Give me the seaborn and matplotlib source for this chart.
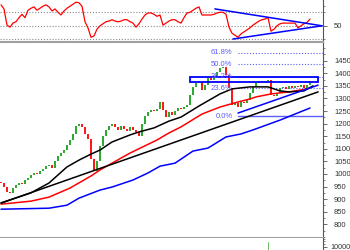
import numpy as np
import pandas as pd
import matplotlib
matplotlib.use("Agg")
import matplotlib.pyplot as plt
import seaborn as sns
from matplotlib.patches import Rectangle
from matplotlib.ticker import FixedLocator, MultipleLocator

# ---------------- data ----------------
first_open = 970
closes = [965, 950, 930, 925, 945, 955, 965, 960, 975, 985,
          995, 1005, 1000, 1012, 1020, 1030, 1035, 1025, 1050, 1070,
          1085, 1095, 1115, 1135, 1160, 1190, 1200, 1185, 1160, 1140,
          1060, 1010, 1050, 1110, 1150, 1175, 1190, 1200, 1185, 1175,
          1190, 1180, 1170, 1185, 1175, 1165, 1150, 1200, 1230, 1245,
          1255, 1250, 1260, 1285, 1255, 1225, 1245, 1235, 1250, 1262,
          1258, 1268, 1275, 1315, 1345, 1360, 1365, 1335, 1355, 1380,
          1375, 1385, 1405, 1420, 1425, 1395, 1340, 1275, 1280, 1265,
          1285, 1280, 1295, 1320, 1345, 1360, 1368, 1365, 1370, 1375,
          1315, 1310, 1322, 1340, 1345, 1338, 1350, 1342, 1348, 1345,
          1352, 1340, 1355, 1368]

rsi = [81, 75, 51, 48, 54, 56, 62, 67, 62, 73,
       76, 78, 73, 76, 79, 81, 78, 72, 75, 70,
       66, 72, 76, 79, 82, 85, 84, 79, 56, 47,
       33, 35, 45, 50, 53, 56, 57, 59, 57, 56,
       57, 59, 59, 56, 54, 48, 53, 60, 66, 69,
       69, 67, 64, 66, 51, 54, 57, 59, 59, 56,
       54, 62, 69, 70, 73, 76, 78, 66, 66, 66,
       66, 67, 69, 70, 70, 67, 48, 39, 36, 33,
       38, 41, 44, 47, 51, 54, 57, 59, 60, 62,
       42, 45, 50, 53, 54, 54, 54, 54, 54, 47,
       50, 53, 55, 60]

ma50_days = [0, 10, 16, 22, 26, 30, 33, 37, 43, 46, 51, 56, 60, 66, 73, 77, 83, 89, 93, 96, 101, 104]
ma50_vals = [885, 925, 964, 1028, 1055, 1079, 1095, 1127, 1155, 1167, 1183, 1210, 1226, 1270, 1318,
             1338, 1346, 1346, 1330, 1326, 1330, 1350]

ma100_days = [0, 10, 16, 23, 30, 33, 43, 52, 56, 60, 67, 73, 79, 83, 85, 90, 96, 102]
ma100_vals = [880, 892, 908, 944, 992, 1016, 1083, 1135, 1163, 1187, 1238, 1266, 1286, 1298, 1306,
              1318, 1326, 1338]

ma200_days = [0, 16, 22, 26, 33, 37, 44, 49, 53, 58, 64, 69, 75, 80, 84, 93, 103]
ma200_vals = [860, 864, 876, 904, 936, 948, 976, 1004, 1031, 1043, 1091, 1103, 1147, 1159, 1175,
              1214, 1262]

trend_days = [0, 105.7]
trend_vals = [884, 1326]

support_days = [79, 105.7]
support_vals = [1242, 1353]

zone_days = [63, 105.7]
zone_vals = [1364, 1386]

fib_labels = ["0.0%", "23.6%", "38.2%", "50.0%", "61.8%"]
fib_vals = [1230, 1340, 1386, 1436, 1482]
fib_start = 79

rsi_upper_days = [71.3, 107]
rsi_upper_vals = [75, 50]
rsi_lower_days = [77.3, 107]
rsi_lower_vals = [30.4, 50]
rsi_levels = [70, 50, 30]

vol_days = [89]
vol_vals = [10500]

price_ticks = list(range(800, 1451, 50))

# ---------------- style ----------------
sns.set_theme(style="white")
plt.rcParams['font.family'] = ['Liberation Sans', 'DejaVu Sans']

W, H = 350, 250
fig = plt.figure(figsize=(3.5, 2.5), dpi=100)
fig.patch.set_facecolor("white")


def rect(x0, y0, x1, y1):
    return [x0 / W, 1 - y1 / H, (x1 - x0) / W, (y1 - y0) / H]


ax_rsi = fig.add_axes(rect(0, 0, 323, 42))
ax = fig.add_axes(rect(0, 42, 323, 238))
ax_vol = fig.add_axes(rect(0, 238, 323, 250))

XMIN, XMAX = -1 / 3, 322 / 3
GREEN = "#19a019"
RED = "#ff0000"
BLUE = "#0000ff"
FIBC = "#5c5cff"
SEP = "#a0a0a0"
TXT = "#333333"

for a in (ax_rsi, ax, ax_vol):
    a.set_facecolor("white")
    a.set_xlim(XMIN, XMAX)
    a.set_xticks([])
    for s in ("left", "top", "bottom"):
        a.spines[s].set_visible(False)
    a.spines["right"].set_visible(True)
    a.spines["right"].set_color("#555555")
    a.spines["right"].set_linewidth(0.8)
    a.yaxis.tick_right()
    a.tick_params(axis="y", which="major", direction="out", length=3, width=0.6,
                  colors="#555555", labelcolor=TXT, labelsize=5.5, pad=5, right=True, left=False)
    a.tick_params(axis="y", which="minor", direction="out", length=1.6, width=0.5,
                  colors="#555555", right=True, left=False)

# separators
for s in ("top", "bottom"):
    ax.spines[s].set_visible(True)
    ax.spines[s].set_color(SEP)
    ax.spines[s].set_linewidth(1.5)

# ---------------- RSI panel ----------------
ax_rsi.set_ylim(26, 88.2)
for lv in rsi_levels:
    ax_rsi.axhline(lv, color="#8a8a8a", lw=0.8, ls=(0, (1, 1.6)), zorder=1)
rsi_df = pd.DataFrame({"day": np.arange(len(rsi)), "rsi": rsi})
sns.lineplot(data=rsi_df, x="day", y="rsi", ax=ax_rsi, color=RED, lw=0.9, zorder=3)
sns.lineplot(x=rsi_upper_days, y=rsi_upper_vals, ax=ax_rsi, color=BLUE, lw=1.1, zorder=4)
sns.lineplot(x=rsi_lower_days, y=rsi_lower_vals, ax=ax_rsi, color=BLUE, lw=1.1, zorder=4)
ax_rsi.yaxis.set_major_locator(FixedLocator([50]))
ax_rsi.yaxis.set_minor_locator(FixedLocator([30, 70, 80]))
ax_rsi.set_xlim(XMIN, XMAX)
ax_rsi.set_xlabel("")
ax_rsi.set_ylabel("")

# ---------------- main price panel ----------------
ax.set_ylim(745.6, 1524.3)
days = np.arange(len(closes))
opens = np.array([first_open] + closes[:-1])
cl = np.array(closes)
colors = [GREEN if c >= o else RED for o, c in zip(opens, cl)]
lo = np.minimum(opens, cl)
hi = np.maximum(opens, cl)
hi = np.where(hi - lo < 3, lo + 3, hi)
ax.vlines(days, lo, hi, colors=colors, lw=1.3, zorder=3)

sns.lineplot(x=ma200_days, y=ma200_vals, ax=ax, color=BLUE, lw=1.1, zorder=4)
sns.lineplot(x=ma100_days, y=ma100_vals, ax=ax, color=RED, lw=1.1, zorder=4)
sns.lineplot(x=ma50_days, y=ma50_vals, ax=ax, color="black", lw=1.1, zorder=4)
sns.lineplot(x=trend_days, y=trend_vals, ax=ax, color="black", lw=1.1, zorder=4)
sns.lineplot(x=support_days, y=support_vals, ax=ax, color=BLUE, lw=1.1, zorder=5)

# resistance zone
ax.add_patch(Rectangle((zone_days[0], zone_vals[0]), zone_days[1] - zone_days[0],
                       zone_vals[1] - zone_vals[0], fill=False, edgecolor=BLUE,
                       lw=1.3, zorder=5))

# fibonacci levels
for lab, v in zip(fib_labels, fib_vals):
    if lab == "0.0%":
        ax.plot([fib_start, XMAX], [v, v], color=FIBC, lw=1.0, zorder=2)
    else:
        ax.plot([fib_start, XMAX], [v, v], color=FIBC, lw=0.8, ls=(0, (1, 1.6)), zorder=2)
    ax.text(fib_start - 1.8, v, lab, ha="right", va="center", fontsize=5.5,
            color=FIBC, zorder=6)

ax.yaxis.set_major_locator(FixedLocator(price_ticks))
ax.yaxis.set_minor_locator(MultipleLocator(25))
ax.set_xlim(XMIN, XMAX)
ax.set_xlabel("")
ax.set_ylabel("")

# ---------------- volume panel ----------------
ax_vol.set_ylim(9700, 10800)
ax_vol.bar(vol_days, vol_vals, width=0.45, color="#0a8f0a", zorder=3)
ax_vol.yaxis.set_major_locator(FixedLocator([10000]))
ax_vol.yaxis.set_minor_locator(FixedLocator([10250, 10500, 10750]))
ax_vol.tick_params(axis="y", which="major", labelsize=5.2, pad=2.2)
ax_vol.set_xlim(XMIN, XMAX)
ax_vol.set_xlabel("")
ax_vol.set_ylabel("")

fig.savefig("out.png", dpi=100, facecolor="white")
